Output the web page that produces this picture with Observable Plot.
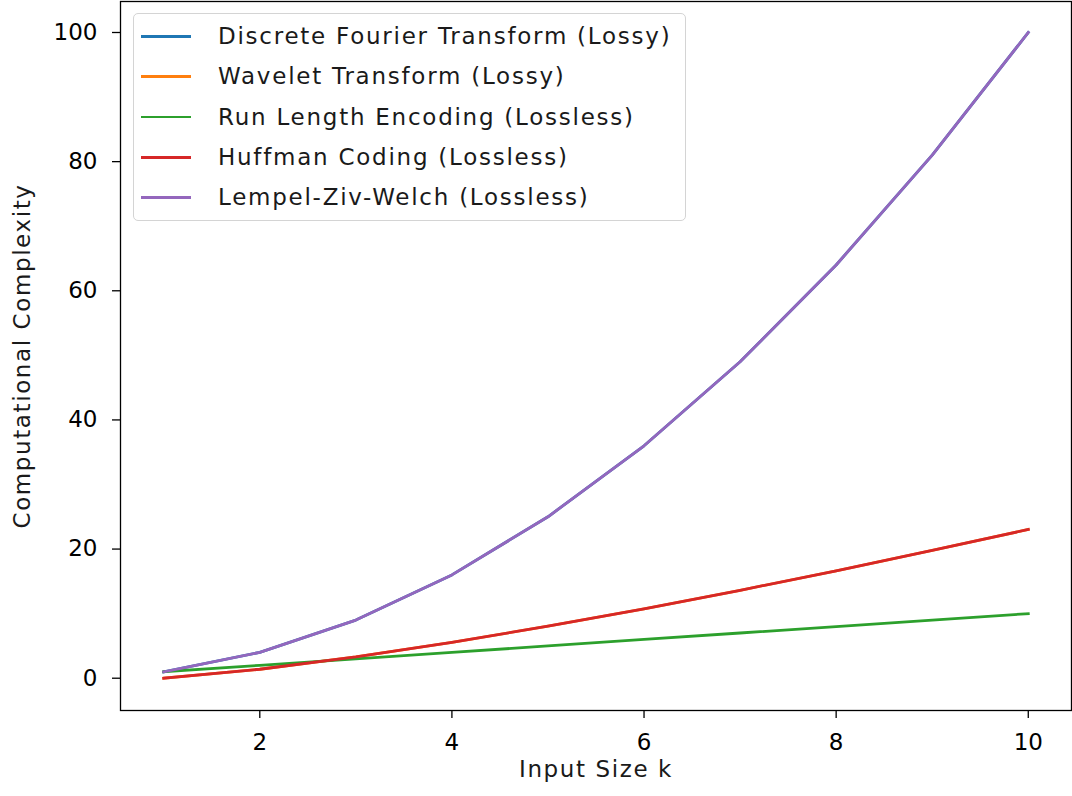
<!DOCTYPE html>
<html>
<head>
<meta charset="utf-8">
<script src="https://cdn.jsdelivr.net/npm/d3@7"></script>
<script src="https://cdn.jsdelivr.net/npm/@observablehq/plot@0.6"></script>
<style>
  html, body { margin: 0; padding: 0; background: #fff; }
  #wrap { position: relative; width: 1072px; height: 796px; font-family: "DejaVu Sans", sans-serif; }
  #legend { position: absolute; left: 133px; top: 13px; width: 551px; height: 206px;
    border: 1.3px solid #d4d4d4; border-radius: 5px; background: rgba(255,255,255,0.8); }
  .row { position: absolute; left: 0; height: 40px; }
  .sw { position: absolute; left: 7px; width: 50px; height: 2.8px; }
  .lb { position: absolute; left: 84px; font-size: 23px; color: #1a1a1a; white-space: nowrap; line-height: 40px; letter-spacing: 1.75px; }
</style>
</head>
<body>
<div id="wrap"><div id="chart"></div><div id="legend"></div></div>
<script>
const k = [1, 2, 3, 4, 5, 6, 7, 8, 9, 10];
const dft = [1, 4, 9, 16, 25, 36, 49, 64, 81, 100];
const wavelet = [0, 1.39, 3.30, 5.55, 8.05, 10.75, 13.62, 16.64, 19.78, 23.03];
const rle = [1, 2, 3, 4, 5, 6, 7, 8, 9, 10];
const huffman = [0, 1.39, 3.30, 5.55, 8.05, 10.75, 13.62, 16.64, 19.78, 23.03];
const lzw = [1, 4, 9, 16, 25, 36, 49, 64, 81, 100];
const seriesNames = [
  "Discrete Fourier Transform (Lossy)",
  "Wavelet Transform (Lossy)",
  "Run Length Encoding (Lossless)",
  "Huffman Coding (Lossless)",
  "Lempel-Ziv-Welch (Lossless)"
];
const seriesValues = [dft, wavelet, rle, huffman, lzw];
const colors = ["#1f77b4", "#ff7f0e", "#2ca02c", "#d62728", "#9467bd"];
const xTicks = [2, 4, 6, 8, 10];
const yTicks = [0, 20, 40, 60, 80, 100];
const xLabel = "Input Size k";
const yLabel = "Computational Complexity";

const data = [];
seriesNames.forEach((name, i) => {
  k.forEach((kv, j) => data.push({series: name, k: kv, value: seriesValues[i][j]}));
});

const chart = Plot.plot({
  width: 1072,
  height: 796,
  marginLeft: 120,
  marginRight: 1,
  marginTop: 1,
  marginBottom: 86,
  style: {fontFamily: "DejaVu Sans, sans-serif", color: "#000", background: "#fff"},
  x: {domain: [0.55, 10.45]},
  y: {domain: [-5, 104.8]},
  color: {domain: seriesNames, range: colors},
  marks: [
    Plot.line(data, {x: "k", y: "value", stroke: "series", z: "series", strokeWidth: 2.8,
      strokeLinejoin: "round", strokeLinecap: "square"}),
    Plot.frame({stroke: "#000", strokeWidth: 1.3}),
    Plot.axisX({ticks: xTicks, tickSize: 8, tickPadding: 15, fontSize: 23, label: null, strokeWidth: 1.3}),
    Plot.axisY({ticks: yTicks, tickSize: 8, tickPadding: 15, fontSize: 23, label: null, strokeWidth: 1.3}),
    Plot.text([xLabel], {frameAnchor: "bottom", dy: 66, fontSize: 23, text: d => d, fill: "#1a1a1a", textAnchor: "middle"}),
    Plot.text([yLabel], {frameAnchor: "left", dx: -98, rotate: -90, fontSize: 23, text: d => d, fill: "#1a1a1a", textAnchor: "middle"})
  ]
});
d3.select(chart).selectAll('g[aria-label="text"] text').attr("letter-spacing", "1.6px");
document.getElementById("chart").appendChild(chart);

const legend = document.getElementById("legend");
seriesNames.forEach((name, i) => {
  const row = document.createElement("div");
  row.className = "row";
  row.style.top = (2 + i * 40.3) + "px";
  row.style.width = "100%";
  const sw = document.createElement("div");
  sw.className = "sw";
  sw.style.background = colors[i];
  sw.style.top = "19px";
  const lb = document.createElement("div");
  lb.className = "lb";
  lb.textContent = name;
  lb.style.top = "0px";
  row.appendChild(sw);
  row.appendChild(lb);
  legend.appendChild(row);
});
</script>
</body>
</html>
